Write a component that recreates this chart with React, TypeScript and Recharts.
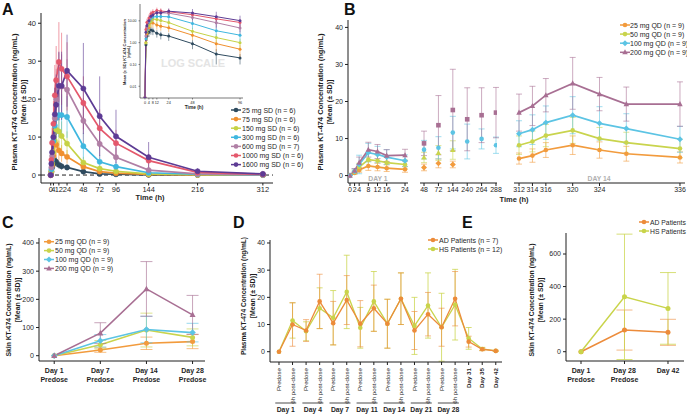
import React from 'react';
import { LineChart, Line, XAxis, YAxis, ErrorBar, ReferenceLine } from 'recharts';

const FONT = '"Liberation Sans", Arial, Helvetica, sans-serif';
const INK = '#1f1f1f';

// ---------- A: single dose, plasma (linear + log inset) ----------
const hoursA = [0, 1, 2, 4, 6, 8, 12, 16, 24, 48, 72, 96, 144, 216, 312];
const ticksA = [0, 4, 12, 24, 48, 72, 96, 144, 216, 312];
const a25 = [0, 0.8, 2, 3, 3.8, 3.5, 2.7, 2.3, 2.0, 0.9, 0.3, 0.2, 0.05, 0.02, 0.01];
const a25sd = [0, 0.4, 0.8, 1.2, 1.5, 1.3, 1.0, 0.9, 0.8, 0.4, 0.2, 0.1, 0.05, 0.02, 0.01];
const a75 = [0, 1, 2.5, 5, 8.5, 8, 6.5, 5.7, 4.8, 2.2, 0.9, 0.5, 0.15, 0.05, 0.02];
const a75sd = [0, 0.6, 1.3, 2.5, 3.5, 3.2, 2.6, 2.2, 1.8, 0.9, 0.5, 0.3, 0.1, 0.03, 0.02];
const a150 = [0, 1, 3, 6, 9, 12, 11.5, 10.3, 8.3, 3.3, 1.7, 1.0, 0.3, 0.1, 0.03];
const a150sd = [0, 0.8, 1.8, 3, 4, 4.5, 4.2, 3.8, 3.2, 1.5, 0.8, 0.5, 0.2, 0.05, 0.02];
const a300 = [0, 1.5, 4, 9, 13, 15, 15.8, 15.8, 15.3, 7.6, 3.5, 2.2, 0.6, 0.2, 0.05];
const a300sd = [0, 1, 2.5, 4, 5, 5.5, 5.8, 5.5, 5.5, 3.5, 1.8, 1.2, 0.4, 0.1, 0.03];
const a600 = [0, 2, 5, 10, 15, 20, 23.3, 23.3, 22.5, 14.3, 8.2, 4.7, 1.3, 0.3, 0.1];
const a600sd = [0, 1.5, 3, 5, 7, 8, 9, 8.5, 8, 6, 4, 2.5, 0.8, 0.2, 0.05];
const a1000 = [0, 4, 8.5, 13.5, 21, 25, 29.8, 28, 26, 19, 12.3, 8.4, 3.8, 0.7, 0.2];
const a1000sd = [0, 2, 4, 6, 8, 9, 10.5, 9.5, 9, 7, 5, 3.5, 1.8, 0.4, 0.1];
const a1600 = [0, 3, 6, 10, 16, 18.5, 23.5, 23.5, 27.5, 22.8, 15.5, 10.2, 4.7, 1.0, 0.3];
const a1600sd = [0, 2, 3.5, 5, 7, 8, 9, 9, 9.5, 12, 10.5, 7, 4, 0.8, 0.2];

const seriesA = [
  { key: 'a25', name: '25 mg SD (n = 6)', color: '#2f4b5f', vals: a25, sd: a25sd },
  { key: 'a75', name: '75 mg SD (n = 6)', color: '#f0902f', vals: a75, sd: a75sd },
  { key: 'a150', name: '150 mg SD (n = 6)', color: '#c6d245', vals: a150, sd: a150sd },
  { key: 'a300', name: '300 mg SD (n = 6)', color: '#3fb7df', vals: a300, sd: a300sd },
  { key: 'a600', name: '600 mg SD (n = 7)', color: '#b07fa5', vals: a600, sd: a600sd },
  { key: 'a1000', name: '1000 mg SD (n = 6)', color: '#e4586c', vals: a1000, sd: a1000sd },
  { key: 'a1600', name: '1600 mg SD (n = 6)', color: '#5d3b94', vals: a1600, sd: a1600sd },
];

const rowsA = hoursA.map((t, i) => {
  const r: any = { t };
  seriesA.forEach((s) => {
    r[s.key] = s.vals[i];
    r[s.key + 'sd'] = s.sd[i];
  });
  return r;
});

// log inset: first 96 h, zero pinned to the axis floor
const LOG_FLOOR = 0.003;
const rowsInset = rowsA
  .filter((r) => r.t <= 96)
  .map((r) => {
    const o: any = { t: r.t };
    seriesA.forEach((s) => {
      const v = r[s.key] > 0 ? r[s.key] : LOG_FLOOR;
      o[s.key] = v;
      o[s.key + 'err'] = r[s.key] > 0 ? [Math.min(r[s.key + 'sd'], v * 0.8), r[s.key + 'sd']] : [0, 0];
    });
    return o;
  });

// ---------- B: multiple dose, plasma (broken axis) ----------
const hoursB1 = [0, 2, 4, 8, 12, 16, 24];
const b25_1 = [0, 0.7, 1.5, 2.6, 2.3, 2.0, 1.7];
const b50_1 = [0, 1.0, 2.3, 4.3, 4.0, 3.5, 3.0];
const b100_1 = [0, 1.2, 3.0, 6.2, 5.7, 5.0, 4.0];
const b200_1 = [0, 1.3, 3.5, 7.0, 6.5, 5.4, 5.5];
const b25_1sd = [0, 0.3, 0.6, 1.2, 1.0, 0.9, 0.8];
const b50_1sd = [0, 0.5, 1.0, 1.8, 1.6, 1.4, 1.2];
const b100_1sd = [0, 0.6, 2.5, 2.5, 2.2, 2.0, 1.6];
const b200_1sd = [0, 0.6, 1.5, 2.0, 1.9, 1.6, 1.6];

const hoursB2 = ['48', '72', '144', '240', '264', '288'];
const b25_2 = [2.2, 3.3, 3.0, null, null, null];
const b50_2 = [4.9, 6.1, 6.9, null, null, null];
const b100_2 = [7.0, 7.5, 11.6, 9.2, 9.9, 8.2];
const b200_2 = [8.7, 13.6, 17.7, 15.2, 16.3, 17.0];
const b25_2sd = [0.9, 1.2, 0.9, null, null, null];
const b50_2sd = [1.4, 2.0, 2.5, null, null, null];
const b100_2sd = [2.5, 3.0, 4.4, 4.7, 2.7, 2.2];
const b200_2sd = [3.3, 8.0, 11.0, 8.5, 7.4, 6.8];

const hoursB3 = [312, 314, 316, 320, 324, 328, 336];
const ticksB3 = [312, 314, 316, 320, 324, 336];
const b25_3 = [4.6, 5.4, 6.9, 8.2, 6.9, 5.9, 4.9];
const b50_3 = [8.2, 9.2, 10.8, 12.2, 10.0, 8.9, 7.3];
const b100_3 = [11.3, 12.4, 14.3, 16.3, 14.1, 12.7, 9.8];
const b200_3 = [17.0, 18.8, 21.7, 24.9, 22.0, 19.3, 19.3];
const b25_3sd = [1.5, 1.8, 2.0, 2.5, 2.2, 2.0, 1.5];
const b50_3sd = [2.5, 2.8, 3.0, 3.5, 3.0, 2.8, 2.5];
const b100_3sd = [3.5, 4.0, 4.5, 5.0, 4.5, 4.0, 3.5];
const b200_3sd = [5.0, 5.3, 4.5, 7.0, 4.5, 4.6, 6.0];

const qdNames = ['25 mg QD (n = 9)', '50 mg QD (n = 9)', '100 mg QD (n = 9)', '200 mg QD (n = 9)'];
const qdColors = ['#f29b3d', '#c9d44d', '#5cc4e4', '#a86f93'];
const qdShapes = ['circle', 'circle', 'diamond', 'triangle'];
const qdShapesMid = ['diamond', 'triangle', 'circle', 'square'];

const rowsB1 = hoursB1.map((t, i) => ({
  t, q25: b25_1[i], q50: b50_1[i], q100: b100_1[i], q200: b200_1[i],
  q25sd: b25_1sd[i], q50sd: b50_1sd[i], q100sd: b100_1sd[i], q200sd: b200_1sd[i],
}));
const rowsB2 = hoursB2.map((_, i) => ({
  i, q25: b25_2[i], q50: b50_2[i], q100: b100_2[i], q200: b200_2[i],
  q25sd: b25_2sd[i], q50sd: b50_2sd[i], q100sd: b100_2sd[i], q200sd: b200_2sd[i],
}));
const rowsB3 = hoursB3.map((t, i) => ({
  t, q25: b25_3[i], q50: b50_3[i], q100: b100_3[i], q200: b200_3[i],
  q25sd: b25_3sd[i], q50sd: b50_3sd[i], q100sd: b100_3sd[i], q200sd: b200_3sd[i],
}));
const qdKeys = ['q25', 'q50', 'q100', 'q200'];

// ---------- C: skin, multiple dose ----------
const daysC = ['Day 1', 'Day 7', 'Day 14', 'Day 28'];
const subC = ['Predose', 'Predose', 'Predose', 'Predose'];
const c25 = [0, 20, 44, 50];
const c50 = [0, 39, 91, 65];
const c100 = [0, 53, 93, 82];
const c200 = [0, 80, 237, 145];
const c25sd = [0, 8, 22, 25];
const c50sd = [0, 15, 60, 30];
const c100sd = [0, 22, 47, 33];
const c200sd = [0, 37, 97, 69];
const rowsC = daysC.map((_, i) => ({
  i, q25: c25[i], q50: c50[i], q100: c100[i], q200: c200[i],
  q25sd: c25sd[i], q50sd: c50sd[i], q100sd: c100sd[i], q200sd: c200sd[i],
}));

// ---------- D: patients, plasma ----------
const labelsD = [
  'Predose', '6h post-dose', 'Predose', '6h post-dose', 'Predose', '6h post-dose',
  'Predose', '6h post-dose', 'Predose', '6h post-dose', 'Predose', '6h post-dose',
  'Predose', '6h post-dose', 'Day 31', 'Day 35', 'Day 42',
];
const groupsD = ['Day 1', 'Day 4', 'Day 7', 'Day 11', 'Day 14', 'Day 21', 'Day 28'];
const dAD = [0, 10, 7.8, 18.5, 10.5, 19, 10.3, 16, 10.3, 19.5, 7.8, 13.8, 9, 19.5, 3.7, 0.9, 0.3];
const dADsd = [0, 8, 4, 10, 8, 9, 8.5, 8.5, 9, 9.5, 7, 8, 7, 10, 2, 0.5, 0.2];
const dHS = [0, 11.5, 7.5, 16, 12.5, 22, 8.8, 18.5, 10.3, 19.5, 9.5, 17, 9, 17.3, 4.9, 1.0, 0.3];
const dHSsd = [0, 6.5, 3.5, 7.5, 10, 13.5, 7.5, 11, 9, 9.5, 10.5, 12, 12.5, 13, 4, 0.6, 0.2];
const rowsD = labelsD.map((_, i) => ({ i, ad: dAD[i], hs: dHS[i], adsd: dADsd[i], hssd: dHSsd[i] }));

// ---------- E: patients, skin ----------
const daysE = ['Day 1', 'Day 28', 'Day 42'];
const subE = ['Predose', 'Predose', ''];
const eAD = [0, 133, 119];
const eADsd = [0, 123, 80];
const eHS = [0, 337, 266];
const eHSsd = [0, 385, 220];
const rowsE = daysE.map((_, i) => ({ i, ad: eAD[i], hs: eHS[i], adsd: eADsd[i], hssd: eHSsd[i] }));

const AD_COLOR = '#ec8b3a';
const HS_COLOR = '#c9d44a';

const axis = { stroke: INK, strokeWidth: 1 };
const tick = (size: number) => ({ fill: INK, fontSize: size, fontFamily: FONT });

const Mark = ({ shape, x, y, r, color }: any) => {
  if (shape === 'square') return <rect x={x - r} y={y - r} width={2 * r} height={2 * r} fill={color} />;
  if (shape === 'diamond')
    return <polygon points={`${x},${y - r * 1.3} ${x + r * 1.3},${y} ${x},${y + r * 1.3} ${x - r * 1.3},${y}`} fill={color} />;
  if (shape === 'triangle')
    return <polygon points={`${x},${y - r * 1.3} ${x + r * 1.2},${y + r * 0.9} ${x - r * 1.2},${y + r * 0.9}`} fill={color} />;
  return <circle cx={x} cy={y} r={r} fill={color} />;
};

const shapeDot = (shape: string, color: string, r: number) => (p: any) => {
  if (p.cx == null || p.cy == null || Number.isNaN(p.cy) || p.value == null)
    return <g key={'n' + p.index} />;
  return <Mark key={'d' + p.index} shape={shape} x={p.cx} y={p.cy} r={r} color={color} />;
};

const LegendItem = ({ x, tx, y, color, shape, label, size = 7 }: any) => (
  <g>
    <line x1={x - 5} x2={x + 5} y1={y} y2={y} stroke={color} strokeWidth={1.5} />
    <Mark shape={shape} x={x} y={y} r={2.3} color={color} />
    <text x={tx} y={y + 2.5} fontSize={size} fill={INK}>{label}</text>
  </g>
);

const YTitle = ({ x, y, len, lines, size = 7 }: any) => (
  <g>
    <text transform={`translate(${x + 2.5},${y}) rotate(-90)`} textAnchor="middle" fontSize={size} fontWeight="bold" fill={INK}
      textLength={len} lengthAdjust="spacingAndGlyphs">{lines[0]}</text>
    <text transform={`translate(${x + 11.5},${y}) rotate(-90)`} textAnchor="middle" fontSize={size} fontWeight="bold" fill={INK}>{lines[1]}</text>
  </g>
);

const TwoLineTick = (days: string[], subs: string[]) => ({ x, y, payload }: any) => (
  <text x={x} y={y} textAnchor="middle" fontSize={7} fontWeight="bold" fill={INK} fontFamily={FONT}>
    <tspan x={x} dy={7}>{days[payload.value]}</tspan>
    <tspan x={x} dy={8.5}>{subs[payload.value]}</tspan>
  </text>
);

const RotTick = ({ x, y, payload }: any) => {
  const lbl = labelsD[payload.value];
  return (
    <text transform={`translate(${x + 2.2},${y + 1}) rotate(-90)`} textAnchor="end" fontSize={6.2}
      fontWeight={lbl.startsWith('Day') ? 'bold' : 'normal'} fill={INK} fontFamily={FONT}>{lbl}</text>
  );
};

const qdLines = (shapes: string[], withLine: boolean) =>
  qdKeys.map((k, j) => (
    <Line key={k} dataKey={k} stroke={withLine ? qdColors[j] : 'none'} strokeWidth={1.7}
      dot={shapeDot(shapes[j], qdColors[j], 2.3)} activeDot={false} isAnimationActive={false} connectNulls={false}>
      <ErrorBar dataKey={k + 'sd'} width={3} stroke={qdColors[j]} strokeWidth={0.9} strokeOpacity={0.65} />
    </Line>
  ));

export default function App() {
  return (
    <div style={{ position: 'relative', width: 687, height: 414, overflow: 'hidden', background: '#fff', fontFamily: FONT }}>
      <style>{'body{margin:0}'}</style>

      {/* watermark texts behind the charts */}
      <svg width={687} height={414} style={{ position: 'absolute', left: 0, top: 0 }} fontFamily={FONT}>
        <text x={193} y={67} textAnchor="middle" fontSize={11} fontWeight="bold" fill="#e4e4e4">LOG SCALE</text>
        <text x={378} y={181} textAnchor="middle" fontSize={6.8} fontWeight="bold" fill="#b0b0b0">DAY 1</text>
        <text x={599} y={180.5} textAnchor="middle" fontSize={6.8} fontWeight="bold" fill="#b0b0b0">DAY 14</text>
      </svg>

      {/* A */}
      <div style={{ position: 'absolute', left: 0, top: 0 }}>
        <LineChart width={290} height={195} data={rowsA} margin={{ top: 13, right: 17, bottom: 0, left: 11 }}>
          <XAxis dataKey="t" type="number" domain={[-14.3, 326.9]} ticks={ticksA} interval={0} allowDataOverflow
            tick={tick(7.5)} tickSize={2.5} tickMargin={1} axisLine={axis} tickLine={axis} height={12} />
          <YAxis type="number" domain={[-2.1, 42.7]} ticks={[0, 10, 20, 30, 40]} allowDataOverflow
            tick={tick(7.5)} tickSize={3} axisLine={axis} tickLine={axis} width={30} />
          <ReferenceLine y={0} stroke={INK} strokeDasharray="4 3" />
          {seriesA.map((s) => (
            <Line key={s.key} dataKey={s.key} stroke={s.color} strokeWidth={1.7}
              dot={{ r: 2.6, fill: s.color, stroke: s.color, strokeWidth: 0.5 }} activeDot={false} isAnimationActive={false}>
              <ErrorBar dataKey={s.key + 'sd'} width={0} stroke={s.color} strokeWidth={1} strokeOpacity={0.6} />
            </Line>
          ))}
        </LineChart>
      </div>

      {/* A inset, log scale */}
      <div style={{ position: 'absolute', left: 110, top: 0 }}>
        <LineChart width={140} height={105} data={rowsInset} margin={{ top: 4, right: 7, bottom: 0, left: 10 }}>
          <XAxis dataKey="t" type="number" domain={[-5, 99]} ticks={[0, 4, 8, 12, 24, 48, 96]} interval={0} allowDataOverflow
            tick={tick(3.8)} tickSize={1.5} axisLine={{ stroke: INK, strokeWidth: 0.6 }} tickLine={{ stroke: INK, strokeWidth: 0.5 }} height={7} />
          <YAxis type="number" scale="log" domain={[0.0029, 59]} ticks={[0.01, 0.1, 1, 10]} allowDataOverflow
            tickFormatter={(v: number) => v.toFixed(2)} tick={tick(3.5)} tickSize={1.5}
            axisLine={{ stroke: INK, strokeWidth: 0.6 }} tickLine={{ stroke: INK, strokeWidth: 0.5 }} width={20} />
          {seriesA.map((s) => (
            <Line key={s.key} dataKey={s.key} stroke={s.color} strokeWidth={1}
              dot={{ r: 1.5, fill: s.color, stroke: 'none' }} activeDot={false} isAnimationActive={false}>
              <ErrorBar dataKey={s.key + 'err'} width={0} stroke={s.color} strokeWidth={0.8} strokeOpacity={0.7} />
            </Line>
          ))}
        </LineChart>
      </div>

      {/* B, three axis segments */}
      <div style={{ position: 'absolute', left: 300, top: 0 }}>
        <LineChart width={114} height={197} data={rowsB1} margin={{ top: 20, right: 6, bottom: 0, left: 18 }}>
          <XAxis dataKey="t" type="number" domain={[-0.87, 25.3]} ticks={hoursB1} interval={0} allowDataOverflow
            tick={tick(7)} tickSize={3} tickMargin={1} axisLine={axis} tickLine={axis} height={14} />
          <YAxis type="number" domain={[-2, 42]} ticks={[0, 10, 20, 30, 40]} allowDataOverflow
            tick={tick(7)} tickSize={3} axisLine={axis} tickLine={axis} width={30} />
          {qdLines(qdShapes, true)}
        </LineChart>
      </div>
      <div style={{ position: 'absolute', left: 414, top: 0 }}>
        <LineChart width={89} height={197} data={rowsB2} margin={{ top: 20, right: 6, bottom: 0, left: 6 }}>
          <XAxis dataKey="i" type="number" domain={[-0.28, 5.07]} ticks={[0, 1, 2, 3, 4, 5]} interval={0} allowDataOverflow
            tickFormatter={(v: number) => hoursB2[v]} tick={tick(7)} tickSize={3} tickMargin={1} axisLine={axis} tickLine={axis} height={14} />
          <YAxis hide type="number" domain={[-2, 42]} allowDataOverflow />
          {qdLines(qdShapesMid, false)}
        </LineChart>
      </div>
      <div style={{ position: 'absolute', left: 508, top: 0 }}>
        <LineChart width={179} height={197} data={rowsB3} margin={{ top: 20, right: 2, bottom: 0, left: 6 }}>
          <XAxis dataKey="t" type="number" domain={[311.25, 336.75]} ticks={ticksB3} interval={0} allowDataOverflow
            tick={tick(7)} tickSize={3} tickMargin={1} axisLine={axis} tickLine={axis} height={14} />
          <YAxis hide type="number" domain={[-2, 42]} allowDataOverflow />
          {qdLines(qdShapes, true)}
        </LineChart>
      </div>

      {/* C */}
      <div style={{ position: 'absolute', left: 0, top: 230 }}>
        <LineChart width={213} height={161} data={rowsC} margin={{ top: 8, right: 8, bottom: 0, left: 11 }}>
          <XAxis dataKey="i" type="number" domain={[-0.33, 3.27]} ticks={[0, 1, 2, 3]} interval={0} allowDataOverflow
            tick={TwoLineTick(daysC, subC)} tickSize={3} axisLine={axis} tickLine={axis} height={30} />
          <YAxis type="number" domain={[-18.8, 417.7]} ticks={[0, 100, 200, 300, 400]} allowDataOverflow
            tick={tick(7)} tickSize={3} axisLine={axis} tickLine={axis} width={28} />
          {qdKeys.map((k, j) => (
            <Line key={k} dataKey={k} stroke={qdColors[j]} strokeWidth={1.6}
              dot={shapeDot(qdShapes[j], qdColors[j], 2.5)} activeDot={false} isAnimationActive={false}>
              <ErrorBar dataKey={k + 'sd'} width={6} stroke={qdColors[j]} strokeWidth={0.9} strokeOpacity={0.7} />
            </Line>
          ))}
        </LineChart>
      </div>

      {/* D */}
      <div style={{ position: 'absolute', left: 230, top: 230 }}>
        <LineChart width={280} height={182} data={rowsD} margin={{ top: 10, right: 8, bottom: 10, left: 12 }}>
          <XAxis dataKey="i" type="number" domain={[-0.664, 16.46]} ticks={labelsD.map((_, i) => i)} interval={0} allowDataOverflow
            tick={RotTick} tickSize={3} axisLine={axis} tickLine={axis} height={40} />
          <YAxis type="number" domain={[-3.79, 41.1]} ticks={[0, 10, 20, 30, 40]} allowDataOverflow
            tick={tick(7)} tickSize={3} axisLine={axis} tickLine={axis} width={28} />
          <Line dataKey="hs" stroke={HS_COLOR} strokeWidth={1.3} dot={{ r: 2.3, fill: HS_COLOR, stroke: 'none' }}
            activeDot={false} isAnimationActive={false}>
            <ErrorBar dataKey="hssd" width={3} stroke={HS_COLOR} strokeWidth={1} strokeOpacity={0.75} />
          </Line>
          <Line dataKey="ad" stroke={AD_COLOR} strokeWidth={1.3} dot={{ r: 2.3, fill: AD_COLOR, stroke: 'none' }}
            activeDot={false} isAnimationActive={false}>
            <ErrorBar dataKey="adsd" width={3} stroke={AD_COLOR} strokeWidth={1} strokeOpacity={0.6} />
          </Line>
        </LineChart>
      </div>

      {/* E */}
      <div style={{ position: 'absolute', left: 520, top: 230 }}>
        <LineChart width={167} height={161} data={rowsE} margin={{ top: 3, right: 3, bottom: 0, left: 16 }}>
          <XAxis dataKey="i" type="number" domain={[-0.345, 2.368]} ticks={[0, 1, 2]} interval={0} allowDataOverflow
            tick={TwoLineTick(daysE, subE)} tickSize={3} axisLine={axis} tickLine={axis} height={30} />
          <YAxis type="number" domain={[-57, 729]} ticks={[0, 200, 400, 600]} allowDataOverflow
            tick={tick(7)} tickSize={3} axisLine={axis} tickLine={axis} width={30} />
          <Line dataKey="ad" stroke={AD_COLOR} strokeWidth={1.5} dot={{ r: 2.5, fill: AD_COLOR, stroke: 'none' }}
            activeDot={false} isAnimationActive={false}>
            <ErrorBar dataKey="adsd" width={8} stroke={AD_COLOR} strokeWidth={1} strokeOpacity={0.6} />
          </Line>
          <Line dataKey="hs" stroke={HS_COLOR} strokeWidth={1.5} dot={{ r: 2.5, fill: HS_COLOR, stroke: 'none' }}
            activeDot={false} isAnimationActive={false}>
            <ErrorBar dataKey="hssd" width={8} stroke={HS_COLOR} strokeWidth={1} strokeOpacity={0.75} />
          </Line>
        </LineChart>
      </div>

      {/* titles, legends, panel letters */}
      <svg width={687} height={414} style={{ position: 'absolute', left: 0, top: 0, pointerEvents: 'none' }} fontFamily={FONT}>
        {['A', 'B', 'C', 'D', 'E'].map((l, i) => (
          <text key={l} x={[2, 344, 2, 233, 462][i]} y={[15, 15, 228, 228, 228][i]} fontSize={16} fontWeight="bold" fill="#111">{l}</text>
        ))}

        <YTitle x={14} y={102} len={137} lines={['Plasma KT-474 Concentration (ng/mL)', '[Mean (± SD)]']} />
        <text x={150} y={200} textAnchor="middle" fontSize={7.5} fontWeight="bold" fill={INK}>Time (h)</text>

        <text transform="translate(126,52) rotate(-90)" textAnchor="middle" fontSize={3.4} fontWeight="bold" fill={INK}
          textLength={66} lengthAdjust="spacingAndGlyphs">Mean (± SD) KT-474 Concentration</text>
        <text transform="translate(130,52) rotate(-90)" textAnchor="middle" fontSize={3.4} fontWeight="bold" fill={INK}>(ng/mL)</text>
        <text x={194} y={108.5} textAnchor="middle" fontSize={4.8} fontWeight="bold" fill={INK}>Time (h)</text>

        {seriesA.map((s, i) => (
          <LegendItem key={s.key} x={236} tx={242} y={110 + i * 9.1} color={s.color} shape="circle" label={s.name} />
        ))}

        <YTitle x={320} y={102} len={137} lines={['Plasma KT-474 Concentration (ng/mL)', '[Mean (± SD)]']} />
        <text x={514} y={202} textAnchor="middle" fontSize={7.5} fontWeight="bold" fill={INK}>Time (h)</text>
        {qdNames.map((n, i) => (
          <LegendItem key={n} x={625} tx={630} y={25 + i * 9.1} color={qdColors[i]} shape={qdShapes[i]} label={n} />
        ))}

        <YTitle x={8} y={300} len={113} lines={['Skin KT-474 Concentration (ng/mL)', '[Mean (± SD)]']} />
        {qdNames.map((n, i) => (
          <LegendItem key={'c' + n} x={49} tx={55} y={241.7 + i * 8.9} color={qdColors[i]} shape={qdShapes[i]} label={n} />
        ))}

        <YTitle x={243} y={296} len={118} lines={['Plasma KT-474 Concentration (ng/mL)', '[Mean (± SD)]']} />
        <LegendItem x={433} tx={439} y={240} color={AD_COLOR} shape="circle" label="AD Patients (n = 7)" />
        <LegendItem x={433} tx={439} y={249} color={HS_COLOR} shape="circle" label="HS Patients (n = 12)" />
        {groupsD.map((g, k) => {
          const cx = 279 + (2 * k + 0.5) * 13.55;
          return (
            <g key={g}>
              <line x1={cx - 10.5} x2={cx + 10.5} y1={403} y2={403} stroke={INK} strokeWidth={0.8} />
              <text x={cx} y={412} textAnchor="middle" fontSize={6.8} fontWeight="bold" fill={INK}>{g}</text>
            </g>
          );
        })}

        <YTitle x={531} y={300} len={113} lines={['Skin KT-474 Concentration (ng/mL)', '[Mean (± SD)]']} />
        <LegendItem x={644} tx={650} y={222} color={AD_COLOR} shape="circle" label="AD Patients" size={6.8} />
        <LegendItem x={644} tx={650} y={231} color={HS_COLOR} shape="circle" label="HS Patients" size={6.8} />
      </svg>
    </div>
  );
}
